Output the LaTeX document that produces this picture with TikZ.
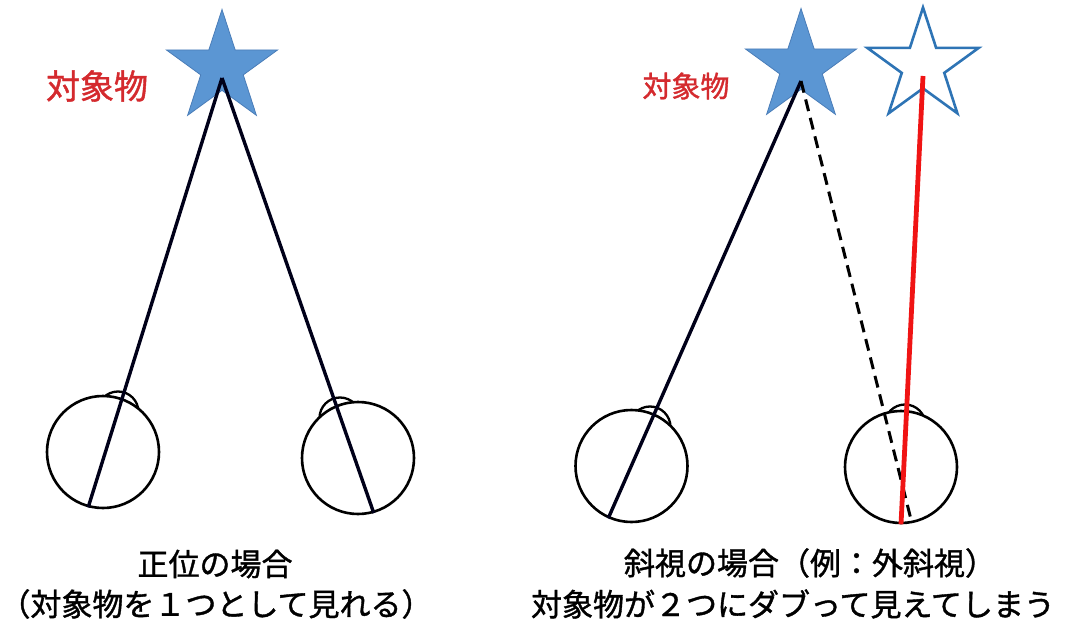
\documentclass[tikz,border=0pt]{standalone}
\usepackage{fontspec}
\newfontfamily\jp{Noto Sans CJK JP}[AutoFakeBold=1.2]
\usetikzlibrary{shapes.geometric}
\definecolor{starfill}{HTML}{5B96D3}
\definecolor{staredge}{HTML}{4A7DB8}
\definecolor{ghostedge}{HTML}{2E74B5}
\definecolor{labelred}{HTML}{D42A2E}
\definecolor{axisred}{HTML}{F01414}
\tikzset{
  target/.style={star, star points=5, star point ratio=2.618, inner sep=0pt,
    minimum size=117pt},
  solidstar/.style={target, fill=starfill, draw=staredge, line width=0.8pt},
  ghoststar/.style={target, fill=white, draw=ghostedge, line width=2.6pt},
  eyeball/.style={circle, draw=black, fill=white, line width=2.6pt, inner sep=0pt,
    minimum size=112pt},
  cornea/.style={circle, draw=black, fill=white, line width=2.3pt, inner sep=0pt,
    minimum size=41pt},
  sight/.style={line width=3.4pt, draw=black!90!blue},
  lostsight/.style={line width=3pt, black, dash pattern=on 12pt off 7pt},
  shifted/.style={line width=4.8pt, axisred},
  objlabel/.style={text=labelred, font=\jp},
  caption/.style={font=\jp\bfseries\fontsize{31}{36}\selectfont, align=center, inner sep=0pt},
}
\begin{document}
\begin{tikzpicture}[x=1pt, y=-1pt]
\useasboundingbox (0,0) rectangle (1086,631);

% ---- normal alignment ----
\node[solidstar] (objA) at (222,68) {};
\coordinate (focusA) at (222,78);
\node[objlabel, font=\jp\bfseries\fontsize{34}{36}\selectfont] (nameA) at (97,86) {対象物};

\node[cornea] (corA) at (118,412) {};
\node[eyeball] (eyeA) at (103,452) {};
\node[cornea] (corB) at (340,418) {};
\node[eyeball] (eyeB) at (358,458) {};

\draw[sight] (focusA) -- (eyeA.255);
\draw[sight] (focusA) -- (eyeB.286);

\node[caption] (capA1) at (215,564) {正位の場合};
\node[caption] (capA2) at (216,604) {（対象物を１つとして見れる）};

% ---- strabismus (exotropia) ----
\node[solidstar] (objB) at (801,67) {};
\node[ghoststar] (ghost) at (923,66) {};
\coordinate (focusB) at (801,81);
\coordinate (focusG) at (923,76);
\node[objlabel, font=\jp\bfseries\fontsize{29}{32}\selectfont] (nameB) at (686,86) {対象物};

\node[cornea] (corC) at (650,427) {};
\node[eyeball] (eyeC) at (631.5,466) {};
\node[cornea] (corD) at (905,425) {};
\node[eyeball] (eyeD) at (901,467) {};

\draw[sight] (focusB) -- (eyeC.246);
\draw[lostsight] (focusB) -- (eyeD.281);
\draw[shifted] (focusG) -- (eyeD.270);

\node[caption] (capB1) at (810,563) {斜視の場合（例：外斜視）};
\node[caption] (capB2) at (793,604) {対象物が２つにダブって見えてしまう};
\end{tikzpicture}
\end{document}
